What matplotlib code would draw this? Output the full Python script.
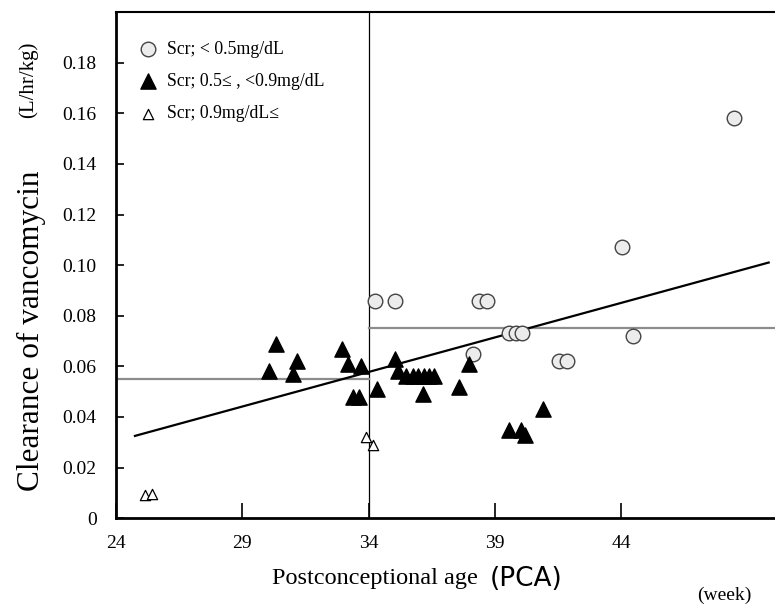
import matplotlib
matplotlib.use("Agg")
import matplotlib.pyplot as plt
import numpy as np

# Scr < 0.5 mg/dL (open circles)
low_pca = [48.47, 34.24, 35.03, 38.39, 38.70, 38.15, 39.57, 39.85, 40.09, 41.55, 41.87, 44.04, 44.47]
low_cl = [0.158, 0.086, 0.086, 0.086, 0.086, 0.065, 0.073, 0.073, 0.073, 0.062, 0.062, 0.107, 0.072]

# 0.5 <= Scr < 0.9 mg/dL (filled triangles)
mid_pca = [30.32, 30.05, 31.15, 31.00, 32.97, 33.17, 33.72, 33.37, 33.64, 34.32, 35.03, 35.15,
           35.49, 35.75, 35.95, 36.21, 36.41, 36.61, 36.17, 37.60, 37.99,
           40.92, 39.57, 40.05, 40.20]
mid_cl = [0.069, 0.058, 0.062, 0.057, 0.067, 0.061, 0.060, 0.048, 0.048, 0.051, 0.063, 0.058,
          0.056, 0.056, 0.056, 0.056, 0.056, 0.056, 0.049, 0.052, 0.061,
          0.043, 0.035, 0.035, 0.033]

# Scr >= 0.9 mg/dL (open triangles)
high_pca = [25.15, 25.42, 33.92, 34.16]
high_cl = [0.009, 0.0095, 0.032, 0.029]

# regression line and group means
fit_slope = 0.00273
fit_intercept = 0.0325 - 0.00273 * 24.75
fit_range = [24.75, 49.85]
mean_before = 0.055
mean_after = 0.075
cutoff = 34

serif = "Liberation Serif"

fig = plt.figure(figsize=(7.75, 6.06), dpi=100)
ax = fig.add_axes([0.1497, 0.145, 0.8503, 0.835])

ax.axvline(cutoff, color="black", lw=0.9, zorder=1)
ax.plot([24, cutoff], [mean_before, mean_before], color="#8c8c8c", lw=1.6, zorder=1)
ax.plot([cutoff, 50.1], [mean_after, mean_after], color="#8c8c8c", lw=1.6, zorder=1)

fx = np.array(fit_range)
ax.plot(fx, fit_intercept + fit_slope * fx, color="black", lw=1.6, zorder=2)

ax.scatter(low_pca, low_cl, s=110, marker="o", facecolor="#ececec", edgecolor="#444444",
           linewidth=1.0, zorder=3, label="Scr; < 0.5mg/dL")
ax.scatter(mid_pca, mid_cl, s=120, marker="^", facecolor="black", edgecolor="black",
           zorder=3, label="Scr; 0.5\u2264 , <0.9mg/dL")
ax.scatter(high_pca, high_cl, s=55, marker="^", facecolor="white", edgecolor="black",
           linewidth=0.9, zorder=3, label="Scr; 0.9mg/dL\u2264")

ax.set_xlim(24, 50.1)
ax.set_ylim(0, 0.2)
ax.set_xticks([24, 29, 34, 39, 44])
ax.set_yticks(np.arange(0, 0.19, 0.02))
ax.set_yticklabels(["0"] + ["%.2f" % v for v in np.arange(0.02, 0.19, 0.02)])
ax.tick_params(axis="y", direction="in", length=6, width=1.2, labelsize=14, pad=14)
ax.tick_params(axis="x", direction="in", length=11, width=1.2, labelsize=14, pad=12)
for lab in ax.get_xticklabels() + ax.get_yticklabels():
    lab.set_fontfamily(serif)

ax.spines["right"].set_visible(False)
ax.spines["left"].set_linewidth(2)
ax.spines["bottom"].set_linewidth(2)
ax.spines["top"].set_linewidth(1.5)

leg = ax.legend(loc="upper left", frameon=False, bbox_to_anchor=(0.0, 0.985),
                prop={"family": serif, "size": 12.8}, handletextpad=0.45,
                labelspacing=0.85, borderaxespad=0.8, handlelength=1.2)

fig.text(0.040, 0.455, "Clearance of vancomycin", rotation=90, ha="center", va="center",
         family=serif, fontsize=22.5)
fig.text(0.036, 0.868, "(L/hr/kg)", rotation=90, ha="center", va="center",
         family=serif, fontsize=15)
fig.text(0.351, 0.045, "Postconceptional age", ha="left", va="center",
         family=serif, fontsize=17.5)
fig.text(0.632, 0.045, "(PCA)", ha="left", va="center",
         family="DejaVu Sans", fontsize=19)
fig.text(0.899, 0.017, "(week)", ha="left", va="center", family=serif, fontsize=14)

fig.savefig("out.png", dpi=100)
